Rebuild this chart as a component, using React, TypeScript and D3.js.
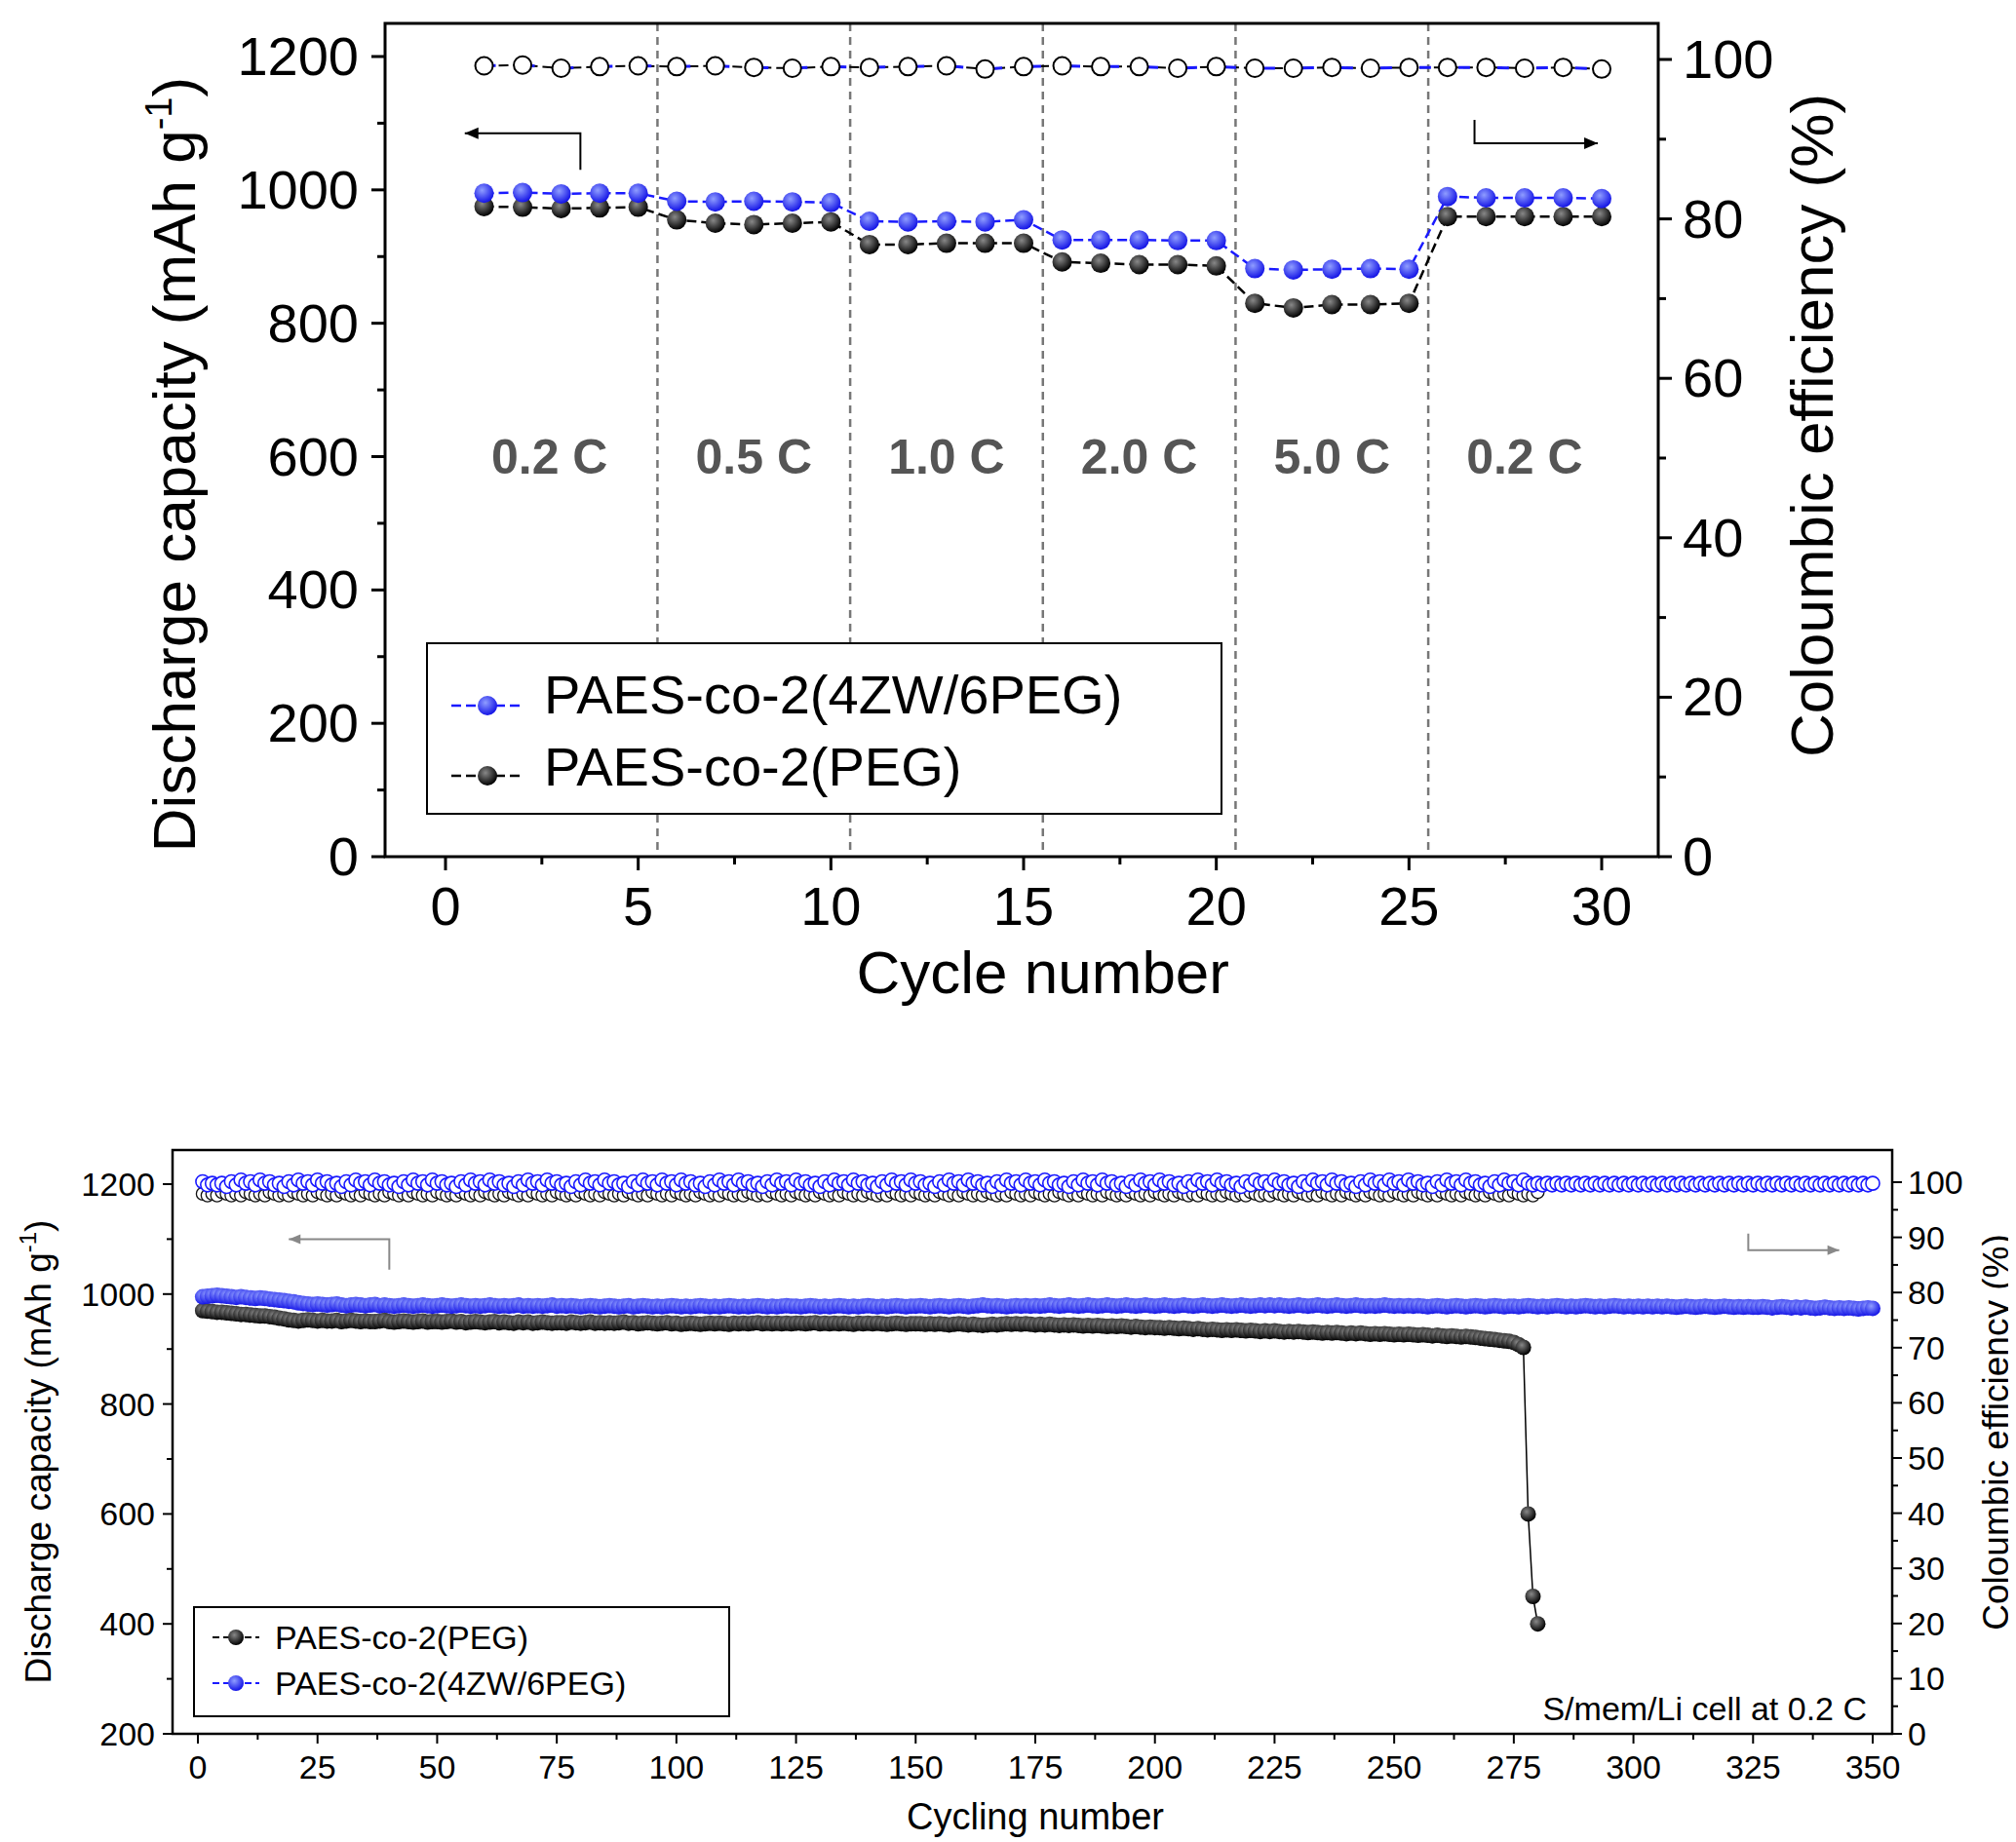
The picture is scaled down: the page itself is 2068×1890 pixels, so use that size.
import * as d3 from 'd3'

// ---------- top panel (rate test) ----------
const rateCycles = d3.range(1, 31)
const rateBlue = [995, 996, 994, 995, 995, 983, 982, 983, 982, 981, 953, 952, 953, 952, 955, 925, 925, 925, 924, 924, 882, 880, 881, 882, 881, 990, 988, 988, 988, 987]
const rateBlack = [975, 974, 972, 973, 974, 955, 950, 948, 950, 952, 918, 918, 920, 920, 920, 892, 890, 888, 888, 886, 830, 823, 828, 828, 830, 960, 960, 960, 960, 960]
const rateCE = [99.2, 99.3, 98.9, 99.1, 99.2, 99.1, 99.2, 99.0, 98.9, 99.1, 99.0, 99.1, 99.2, 98.8, 99.1, 99.2, 99.1, 99.1, 98.9, 99.1, 98.9, 98.9, 99.0, 98.9, 99.0, 99.0, 99.0, 98.9, 99.0, 98.8]
const rateLabels = ['0.2 C', '0.5 C', '1.0 C', '2.0 C', '5.0 C', '0.2 C']
const rateBreaks = [5.5, 10.5, 15.5, 20.5, 25.5]

// ---------- bottom panel (long cycling) ----------
// capacities as offsets from 900 mAh/g, one per cycle
const blackCapOff = (
  '70 69 68 67 67 66 65 64 63 63 62 61 60 60 59 58 56 55 53 52 51 52 53 52 51 ' +
  '52 51 51 52 50 51 52 51 50 51 50 50 51 52 50 49 50 51 50 49 50 51 49 50 50 ' +
  '49 50 51 49 50 48 49 50 49 48 49 50 48 49 48 47 49 48 49 47 48 49 48 47 48 ' +
  '48 47 49 48 47 48 49 47 48 47 48 47 48 49 47 48 46 47 48 47 46 47 48 46 47 ' +
  '45 46 47 46 45 46 47 46 47 46 45 47 46 47 46 47 48 46 47 46 47 46 47 46 47 ' +
  '47 46 47 48 46 47 46 47 46 47 46 45 47 46 47 46 47 46 45 46 47 46 45 46 46 ' +
  '46 45 46 45 46 45 44 45 46 45 44 45 44 43 44 45 44 45 46 45 46 45 46 45 44 ' +
  '45 44 45 44 43 44 43 44 43 42 43 42 43 42 41 42 41 42 41 40 41 40 39 40 39 ' +
  '39 38 39 38 37 38 37 36 37 36 35 36 35 34 35 34 35 34 33 34 33 32 33 32 33 ' +
  '32 31 32 31 32 31 30 31 30 29 30 29 30 29 28 29 28 29 28 27 28 27 28 27 26 ' +
  '27 26 27 26 25 26 25 24 25 24 23 24 23 22 23 22 21 20 19 18 17 16 15 14 12 ' +
  '08 03'
).split(' ').map(Number)
const blackCapTail = [600, 450, 400]
const blueCapOff = (
  '95 96 97 98 97 96 95 94 95 94 93 92 93 92 91 90 89 88 87 86 84 83 82 81 82 ' +
  '81 80 81 82 80 79 80 81 80 79 80 81 79 80 79 78 79 80 79 78 79 80 79 78 79 ' +
  '80 79 78 79 80 79 78 79 78 79 80 79 78 79 78 79 80 78 79 78 79 78 79 80 78 ' +
  '79 78 79 78 77 78 79 78 77 78 79 78 77 78 79 77 78 79 78 77 78 77 78 79 78 ' +
  '77 78 77 78 79 78 77 78 77 78 79 78 77 78 77 78 79 78 77 78 77 78 79 78 78 ' +
  '77 78 79 78 77 78 77 78 79 78 77 78 77 78 79 78 77 78 77 78 79 78 77 78 78 ' +
  '79 78 77 78 79 78 77 78 79 78 77 78 79 80 79 78 79 78 77 78 79 78 79 78 79 ' +
  '78 79 80 79 78 79 80 79 78 79 80 79 78 79 80 79 78 79 80 79 78 79 80 79 78 ' +
  '79 80 79 78 79 80 79 78 79 80 79 78 79 80 79 78 79 80 79 78 79 80 79 80 79 ' +
  '80 79 78 79 80 79 78 79 80 79 78 79 80 79 78 79 80 79 78 79 78 79 80 79 78 ' +
  '79 78 79 78 79 78 77 78 79 78 77 78 79 78 77 78 79 78 77 78 79 78 77 78 78 ' +
  '77 78 79 78 77 78 77 78 79 78 77 78 77 78 79 78 77 78 77 78 79 78 77 78 77 ' +
  '78 77 78 77 78 77 78 77 76 77 78 77 76 77 78 77 76 77 78 77 76 77 76 77 76 ' +
  '76 77 76 75 76 77 76 75 76 75 76 75 74 75 76 75 74 75 74 75 74 73 74 75 74'
).split(' ').map(Number)
// coulombic efficiency, digit d -> 98 + d * 0.3 (%) for blue, 97.6 + d * 0.3 for black
const blueCEDigits = (
  '7565647586758675647586758675647586758675647586758675647586758675647586758675' +
  '6475867586756475867586758675647586758675647586758675647586758675647586758675' +
  '6475867586756475867586758675647586758675647586758675647586758675647586758675' +
  '6475867586756475867586758675647586758675647586758656565656565656565656565656' +
  '56565656565656565656565656565656565656565656565656'
).slice(0, 350)
const blackCEDigits = (
  '1010210102101021010210102101021010210102101021010210102101021010210102101021' +
  '0102101021010210102101021010210102101021010210102101021010210102101021010210' +
  '1021010210102101021010210102101021010210102101021010210102101021010210102101' +
  '0210102101021010210102101021010210102101021010210102'
).slice(0, 280)

const W = 2068
const H = 1890
const FONT = 'Liberation Sans, Arial, sans-serif'

function Ball({ id, c1, c2 }: { id: string; c1: string; c2: string }) {
  return (
    <radialGradient id={id} cx="40%" cy="35%" r="65%">
      <stop offset="0%" stopColor={c1} />
      <stop offset="100%" stopColor={c2} />
    </radialGradient>
  )
}

function TopPanel() {
  const L = 387, R = 1693, T = 16, B = 871
  const x0 = d3.scaleLinear().domain([0, 30]).range([449, 1635])
  const y = d3.scaleLinear().domain([0, 1200]).range([B, 50])
  const y2 = d3.scaleLinear().domain([0, 100]).range([B, 53])
  const line = d3.line<number>().x((_, i) => x0(rateCycles[i]))
  const tick = 14
  const mids = [2.7, 8, 13, 18, 23, 28]
  return (
    <g fontFamily={FONT}>
      {rateBreaks.map(b => (
        <line key={b} x1={x0(b)} x2={x0(b)} y1={T} y2={B} stroke="#777" strokeWidth={2.5} strokeDasharray="8,6" />
      ))}
      {rateLabels.map((t, i) => (
        <text key={i} x={x0(mids[i])} y={y(600) + 17} fontSize={50} fontWeight="bold" fill="#555" textAnchor="middle">{t}</text>
      ))}
      {/* CE */}
      <path d={line.y(v => y2(v))(rateCE) ?? ''} fill="none" stroke="#000" strokeWidth={2} strokeDasharray="10,5" />
      <path d={line.y(v => y2(v))(rateCE) ?? ''} fill="none" stroke="#1a1aff" strokeWidth={3} strokeDasharray="12,28" />
      {rateCE.map((v, i) => (
        <circle key={i} cx={x0(rateCycles[i])} cy={y2(v)} r={9} fill="#fff" stroke="#000" strokeWidth={2} />
      ))}
      <path d={line.y(v => y(v))(rateBlack) ?? ''} fill="none" stroke="#000" strokeWidth={2.5} strokeDasharray="10,5" />
      <path d={line.y(v => y(v))(rateBlue) ?? ''} fill="none" stroke="#1a1aff" strokeWidth={2.5} strokeDasharray="10,5" />
      {rateBlack.map((v, i) => <circle key={i} cx={x0(rateCycles[i])} cy={y(v)} r={10} fill="url(#gBlack)" />)}
      {rateBlue.map((v, i) => <circle key={i} cx={x0(rateCycles[i])} cy={y(v)} r={10} fill="url(#gBlue)" />)}
      {/* arrows */}
      <path d={`M${x0(3.5)},${y(1030)} V${y(1085)} H${x0(0.5)}`} fill="none" stroke="#000" strokeWidth={2} />
      <path d={`M${x0(0.5)},${y(1085)} l14,-6 v12 z`} fill="#000" />
      <path d={`M${x0(26.7)},${y(1105)} V${y(1070)} H${x0(29.9)}`} fill="none" stroke="#000" strokeWidth={2} />
      <path d={`M${x0(29.9)},${y(1070)} l-14,-6 v12 z`} fill="#000" />
      {/* frame */}
      <rect x={L} y={T} width={R - L} height={B - T} fill="none" stroke="#000" strokeWidth={3} />
      {d3.range(0, 31, 2.5).map(v => (
        <line key={v} x1={x0(v)} x2={x0(v)} y1={B} y2={B + (v % 5 === 0 ? tick : 8)} stroke="#000" strokeWidth={3} />
      ))}
      {d3.range(0, 31, 5).map(v => (
        <text key={v} x={x0(v)} y={B + 70} fontSize={56} textAnchor="middle">{v}</text>
      ))}
      <text x={x0(15.5)} y={B + 140} fontSize={62} textAnchor="middle">Cycle number</text>
      {d3.range(0, 1201, 100).map(v => (
        <line key={v} x1={L} x2={L - (v % 200 === 0 ? tick : 8)} y1={y(v)} y2={y(v)} stroke="#000" strokeWidth={3} />
      ))}
      {d3.range(0, 1201, 200).map(v => (
        <text key={v} x={L - 27} y={y(v) + 19} fontSize={56} textAnchor="end">{v}</text>
      ))}
      <text transform={`translate(192,${(T + B) / 2 + 25}) rotate(-90)`} fontSize={62} textAnchor="middle">
        Discharge capacity (mAh g<tspan dy={-24} fontSize={38}>-1</tspan><tspan dy={24}>)</tspan>
      </text>
      {d3.range(0, 101, 10).map(v => (
        <line key={v} x1={R} x2={R + (v % 20 === 0 ? tick : 8)} y1={y2(v)} y2={y2(v)} stroke="#000" strokeWidth={3} />
      ))}
      {d3.range(0, 101, 20).map(v => (
        <text key={v} x={R + 25} y={y2(v) + 19} fontSize={56}>{v}</text>
      ))}
      <text transform={`translate(1872,${(T + B) / 2 - 15}) rotate(-90)`} fontSize={62} textAnchor="middle">Coloumbic efficiency (%)</text>
      {/* legend */}
      <rect x={430} y={652} width={815} height={175} fill="#fff" stroke="#000" strokeWidth={2} />
      <line x1={455} x2={530} y1={716} y2={716} stroke="#1a1aff" strokeWidth={2.5} strokeDasharray="10,5" />
      <circle cx={492} cy={716} r={10} fill="url(#gBlue)" />
      <text x={550} y={724} fontSize={56}>PAES-co-2(4ZW/6PEG)</text>
      <line x1={455} x2={530} y1={788} y2={788} stroke="#000" strokeWidth={2.5} strokeDasharray="10,5" />
      <circle cx={492} cy={788} r={10} fill="url(#gBlack)" />
      <text x={550} y={798} fontSize={56}>PAES-co-2(PEG)</text>
    </g>
  )
}

function BottomPanel() {
  const L = 169, R = 1933, T = 1172, B = 1771
  const x = d3.scaleLinear().domain([0, 350]).range([195, 1913])
  const y = d3.scaleLinear().domain([200, 1200]).range([B, 1207])
  const y2 = d3.scaleLinear().domain([0, 100]).range([B, 1205])
  const blackCap = [...blackCapOff.map(v => 900 + v), ...blackCapTail]
  const blueCap = blueCapOff.map(v => 900 + v)
  const blueCE = blueCEDigits.split('').map(c => 98 + +c * 0.3)
  const blackCE = blackCEDigits.split('').map(c => 97.6 + +c * 0.3)
  const ln = d3.line<number>().x((_, i) => x(i + 1))
  const tick = 10
  return (
    <g fontFamily={FONT}>
      {blackCE.map((v, i) => <circle key={i} cx={x(i + 1)} cy={y2(v)} r={6.5} fill="#fff" stroke="#111" strokeWidth={1.3} />)}
      {blueCE.map((v, i) => <circle key={i} cx={x(i + 1)} cy={y2(v)} r={7} fill="#fff" stroke="#1a1aff" strokeWidth={1.6} />)}
      <path d={ln.y(v => y(v))(blackCap) ?? ''} fill="none" stroke="#000" strokeWidth={1.5} />
      {blackCap.map((v, i) => <circle key={i} cx={x(i + 1)} cy={y(v)} r={8} fill="url(#gBlack)" />)}
      {blueCap.map((v, i) => <circle key={i} cx={x(i + 1)} cy={y(v)} r={8} fill="url(#gBlue)" />)}
      <path d={`M${x(40)},${y(1000) - 25} V${y(1100)} H${x(19)}`} fill="none" stroke="#888" strokeWidth={2} />
      <path d={`M${x(19)},${y(1100)} l12,-5 v10 z`} fill="#888" />
      <path d={`M${x(324)},${y(1110)} V${y(1080)} H${x(343)}`} fill="none" stroke="#888" strokeWidth={2} />
      <path d={`M${x(343)},${y(1080)} l-12,-5 v10 z`} fill="#888" />
      <rect x={L} y={T} width={R - L} height={B - T} fill="none" stroke="#000" strokeWidth={2.5} />
      {d3.range(0, 351, 12.5).map(v => (
        <line key={v} x1={x(v)} x2={x(v)} y1={B} y2={B + (v % 25 === 0 ? tick : 6)} stroke="#000" strokeWidth={2} />
      ))}
      {d3.range(0, 351, 25).map(v => (
        <text key={v} x={x(v)} y={B + 46} fontSize={34} textAnchor="middle">{v}</text>
      ))}
      <text x={x(175)} y={B + 98} fontSize={38} textAnchor="middle">Cycling number</text>
      {d3.range(200, 1201, 100).map(v => (
        <line key={v} x1={L} x2={L - (v % 200 === 0 ? tick : 6)} y1={y(v)} y2={y(v)} stroke="#000" strokeWidth={2} />
      ))}
      {d3.range(200, 1201, 200).map(v => (
        <text key={v} x={L - 18} y={y(v) + 12} fontSize={34} textAnchor="end">{v}</text>
      ))}
      <text transform={`translate(44,${(T + B) / 2 + 10}) rotate(-90)`} fontSize={37} textAnchor="middle">
        Discharge capacity (mAh g<tspan dy={-15} fontSize={24}>-1</tspan><tspan dy={15}>)</tspan>
      </text>
      {d3.range(0, 101, 5).map(v => (
        <line key={v} x1={R} x2={R + (v % 10 === 0 ? tick : 6)} y1={y2(v)} y2={y2(v)} stroke="#000" strokeWidth={2} />
      ))}
      {d3.range(0, 101, 10).map(v => (
        <text key={v} x={R + 16} y={y2(v) + 12} fontSize={34}>{v}</text>
      ))}
      <text transform={`translate(2052,${(T + B) / 2 - 10}) rotate(-90)`} fontSize={37} textAnchor="middle">Coloumbic efficiency (%)</text>
      <text x={1907} y={B - 14} fontSize={34} textAnchor="end">S/mem/Li cell at 0.2 C</text>
      <rect x={191} y={1641} width={549} height={112} fill="#fff" stroke="#000" strokeWidth={2} />
      <line x1={210} x2={258} y1={1672} y2={1672} stroke="#000" strokeWidth={2} strokeDasharray="7,4" />
      <circle cx={234} cy={1672} r={8} fill="url(#gBlack)" />
      <text x={274} y={1684} fontSize={34}>PAES-co-2(PEG)</text>
      <line x1={210} x2={258} y1={1719} y2={1719} stroke="#1a1aff" strokeWidth={2} strokeDasharray="7,4" />
      <circle cx={234} cy={1719} r={8} fill="url(#gBlue)" />
      <text x={274} y={1731} fontSize={34}>PAES-co-2(4ZW/6PEG)</text>
    </g>
  )
}

export default function App() {
  return (
    <svg width={W} height={H} style={{ display: 'block', background: '#fff' }}>
      <defs>
        <Ball id="gBlue" c1="#8f9dff" c2="#1414e6" />
        <Ball id="gBlack" c1="#888" c2="#000" />
      </defs>
      <rect width={W} height={H} fill="#fff" />
      <TopPanel />
      <BottomPanel />
    </svg>
  )
}
